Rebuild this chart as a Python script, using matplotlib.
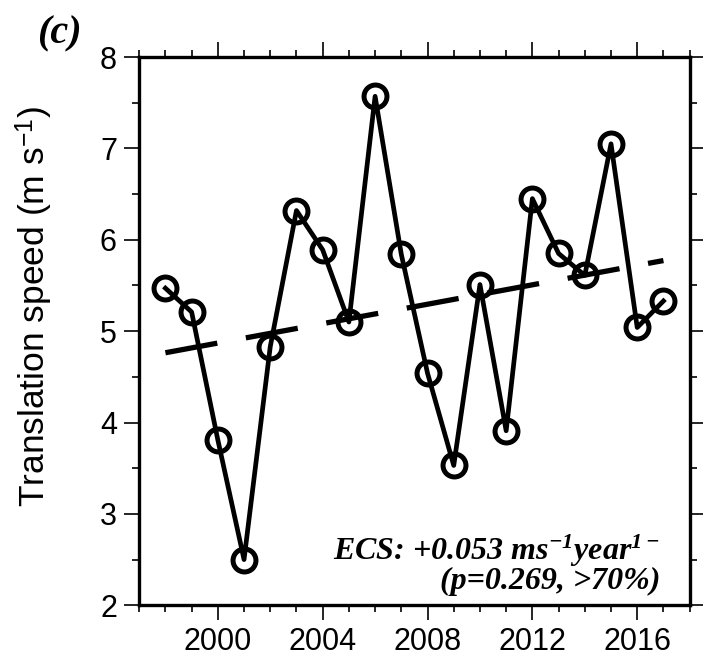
import numpy as np
import matplotlib
matplotlib.use("Agg")
import matplotlib.pyplot as plt
from matplotlib.ticker import MultipleLocator

years = [1998, 1999, 2000, 2001, 2002, 2003, 2004, 2005, 2006, 2007,
         2008, 2009, 2010, 2011, 2012, 2013, 2014, 2015, 2016, 2017]
speed = [5.47, 5.21, 3.81, 2.50, 4.83, 6.32, 5.89, 5.10, 7.57, 5.84,
         4.54, 3.53, 5.51, 3.91, 6.45, 5.85, 5.61, 7.05, 5.04, 5.33]
xticks = [2000, 2004, 2008, 2012, 2016]
yticks = [2, 3, 4, 5, 6, 7, 8]
panel_label = "(c)"
ylabel_text = "Translation speed (m s$^{\\mathsf{-1}}$)"
ann_line1 = "ECS: +0.053 ms$^{-1}$year$^{1-}$"
ann_line2 = "(p=0.269, >70%)"

plt.rcParams['mathtext.fontset'] = 'custom'
plt.rcParams['mathtext.rm'] = 'Liberation Serif:bold:italic'
plt.rcParams['mathtext.it'] = 'Liberation Serif:bold:italic'
plt.rcParams['mathtext.bf'] = 'Liberation Serif:bold:italic'
plt.rcParams['mathtext.sf'] = 'Liberation Sans'
plt.rcParams['font.family'] = ['Liberation Sans', 'DejaVu Sans']

fig = plt.figure(figsize=(7.03, 6.71), dpi=100)
ax = fig.add_axes([0.198, 0.098, 0.783, 0.817])

x = np.array(years, dtype=float)
y = np.array(speed)
coef = np.polyfit(x, y, 1)
trend = np.polyval(coef, x)

ax.plot(x, y, color='black', lw=3.4, zorder=3,
        marker='o', markersize=16.5, markerfacecolor='none',
        markeredgecolor='black', markeredgewidth=3.6)
ax.plot(x, trend, color='black', lw=3.8, dashes=(10, 5.5), zorder=4,
        dash_capstyle='butt')

ax.set_xlim(1997, 2018)
ax.set_ylim(2, 8)
ax.set_xticks(xticks)
ax.set_yticks(yticks)
ax.xaxis.set_minor_locator(MultipleLocator(1))
ax.yaxis.set_minor_locator(MultipleLocator(0.5))
ax.tick_params(which='both', direction='out', top=True, right=True,
               labeltop=False, labelright=False, width=1.2, color='black')
ax.tick_params(which='major', length=11, labelsize=22, pad=5)
ax.tick_params(which='minor', length=5.2)
for s in ax.spines.values():
    s.set_linewidth(2.4)

ax.set_ylabel(ylabel_text, fontsize=25.5)
ax.yaxis.set_label_coords(-0.152, 0.544)

fig.text(0.084, 0.949, panel_label, fontsize=29, family='Liberation Serif',
         fontweight='bold', fontstyle='italic', ha='center', va='center')

ax.text(0.946, 0.030, ann_line1 + "\n" + ann_line2, transform=ax.transAxes,
        fontsize=23, family='Liberation Serif', fontweight='bold',
        fontstyle='italic', ha='right', va='baseline',
        multialignment='right', linespacing=0.9)

fig.savefig('out.png', dpi=100)
